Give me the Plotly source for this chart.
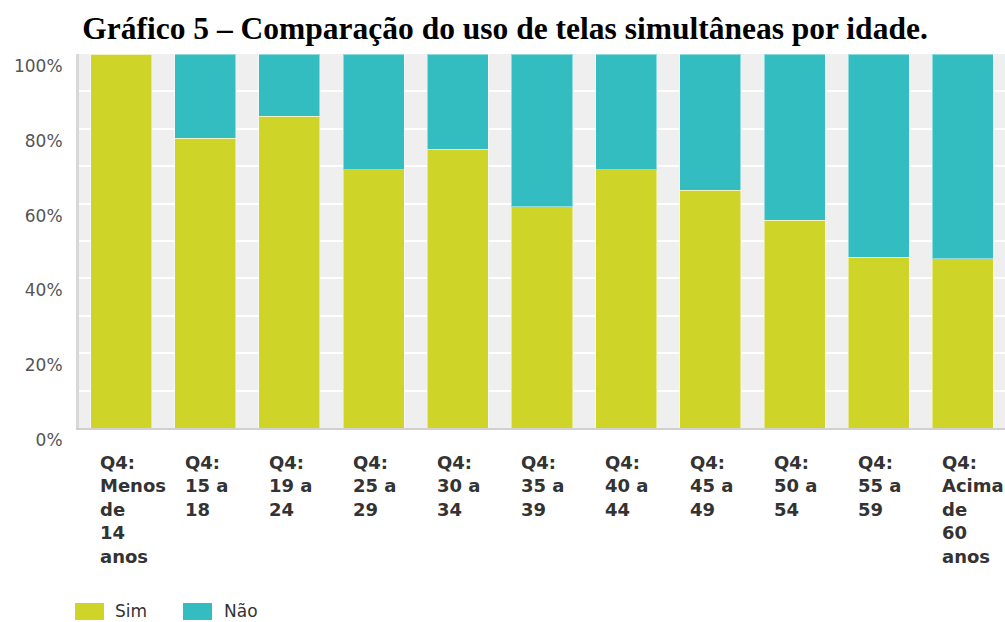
import plotly.graph_objects as go

categories = ["Q4:<br>Menos<br>de<br>14<br>anos", "Q4:<br>15 a<br>18", "Q4:<br>19 a<br>24",
              "Q4:<br>25 a<br>29", "Q4:<br>30 a<br>34", "Q4:<br>35 a<br>39", "Q4:<br>40 a<br>44",
              "Q4:<br>45 a<br>49", "Q4:<br>50 a<br>54", "Q4:<br>55 a<br>59",
              "Q4:<br>Acima<br>de<br>60<br>anos"]
sim = [100, 77.5, 83.4, 69.0, 74.6, 59.1, 69.0, 63.6, 55.6, 45.7, 45.2]
nao = [round(100 - v, 1) for v in sim]
y_ticks = [0, 20, 40, 60, 80, 100]
y_tick_labels = ["0%", "20%", "40%", "60%", "80%", "100%"]
series_names = ["Sim", "Não"]
colors = ["#CFD428", "#33BDC1"]

W, H = 1005, 622
L, R, T, B = 79, 0, 54, 194
pw, ph = W - L - R, H - T - B

def px_x(x):
    return (x - L) / pw

def px_y(y):
    return (H - B - y) / ph

x_idx = list(range(len(categories)))

fig = go.Figure()
for name, vals, col in zip(series_names, [sim, nao], colors):
    fig.add_trace(go.Bar(x=x_idx, y=vals, name=name, marker=dict(color=col,
                  line=dict(color="rgba(255,255,255,0.45)", width=1)), showlegend=False))

annotations = []
for i, lab in enumerate(categories):
    annotations.append(dict(x=i - 0.27, y=0, xref="x", yref="paper", xanchor="left", yanchor="top",
                            yshift=-22, text="<b>" + lab + "</b>", align="left", showarrow=False,
                            font=dict(family="DejaVu Sans", size=18, color="#333333")))

# legend
shapes = []
leg_items = [(75, 104, 113), (183, 212, 222)]
for (x0, x1, tx), name, col in zip(leg_items, series_names, colors):
    shapes.append(dict(type="rect", xref="paper", yref="paper", x0=px_x(x0), x1=px_x(x1),
                       y0=px_y(620), y1=px_y(603), fillcolor=col, line=dict(width=0)))
    annotations.append(dict(x=px_x(tx), y=px_y(611), xref="paper", yref="paper", xanchor="left",
                            yanchor="middle", text=name, showarrow=False,
                            font=dict(family="DejaVu Sans", size=17, color="#333333")))

fig.update_layout(
    width=W, height=H, barmode="stack", bargap=0.275,
    margin=dict(l=L, r=R, t=T, b=B),
    paper_bgcolor="white", plot_bgcolor="#EFEFEF",
    title=dict(text="<b>Gráfico 5 – Comparação do uso de telas simultâneas por idade.</b>",
               x=505 / W, xref="container", xanchor="center", y=1 - 28 / H, yref="container",
               yanchor="middle",
               font=dict(family="Liberation Serif", size=31.5, color="#000000")),
    xaxis=dict(range=[-0.5, len(categories) - 0.5], showticklabels=False, showgrid=False,
               zeroline=False, showline=True, linecolor="#D0D0D0", linewidth=2, ticks=""),
    yaxis=dict(range=[0, 100], tickvals=y_ticks, ticktext=y_tick_labels, showgrid=True,
               gridcolor="white", gridwidth=2, minor=dict(dtick=10, showgrid=True, gridcolor="white", gridwidth=2),
               zeroline=False, showline=True, linecolor="#D8D8D8", linewidth=3, ticks="",
               ticklabelstandoff=10, ticklabelshift=12,
               tickfont=dict(family="DejaVu Sans", size=17, color="#555555")),
    annotations=annotations, shapes=shapes,
)
fig.write_html("out.html", config={"displayModeBar": False},
               post_script="document.body.style.margin='0';document.body.style.overflow='hidden';")
